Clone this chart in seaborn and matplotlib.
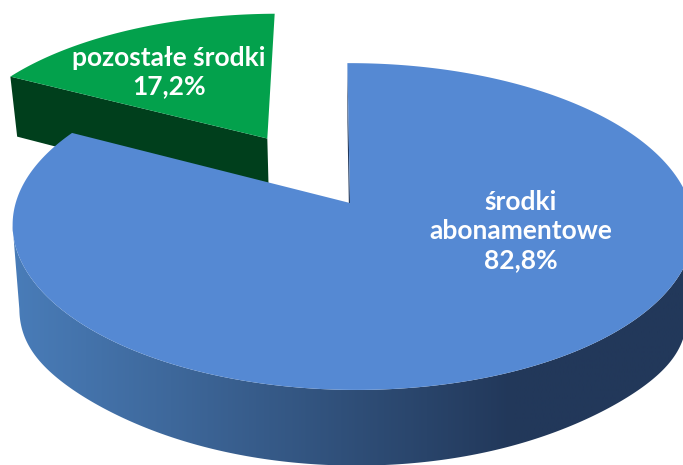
import numpy as np
import matplotlib
matplotlib.use("Agg")
import matplotlib.pyplot as plt
from matplotlib.patches import Polygon
import seaborn as sns

categories = ["środki\nabonamentowe", "pozostałe środki"]
shares = [82.8, 17.2]
share_labels = ["82,8%", "17,2%"]
explode = [0, 0.5]

top_colors = ["#5589d3", "#03a14c"]
wall_stops = ["#4a7ebb", "#3e689b", "#30507a", "#22385a", "#22385a"]
green_wall = "#003f1c"

sns.set_theme(style="white")
plt.rcParams["font.family"] = ["Lato", "DejaVu Sans"]

fig = plt.figure(figsize=(6.83, 4.65), dpi=100)
ax = fig.add_axes([0, 0, 1, 1])

# pie gives the angles and the exploded centres
wedges, _ = ax.pie(shares, explode=explode, startangle=90, counterclock=False, radius=1)
slices = [(w.theta1, w.theta2, w.center) for w in wedges]
for w in wedges:
    w.remove()


# tilted view of the pie plane
def project(u, v):
    u, v = np.asarray(u), np.asarray(v)
    s = 1 / (1 + 0.144 * v - 0.008 * u)
    return 350 + (337 * u - 3 * v) * s, 203 - 160 * v * s


def lower(x, y, bulge=0):
    return 350 + (x - 350) * 0.98, y + 60 + 0.05 * (y - 76) + bulge * ((x - 350) / 337) ** 8


def arc(t1, t2, center, n=300):
    t = np.radians(np.linspace(t1, t2, n))
    return center[0] + np.cos(t), center[1] + np.sin(t)


# green slice
t1, t2, c = slices[1]
gx, gy = project(*arc(t1, t2, c))
gcx, gcy = project(c[0], c[1])
lx, ly = lower(np.array([gx[-1], gcx]), np.array([gy[-1], gcy]))
ax.add_patch(Polygon([(gx[-1], gy[-1]), (gcx, gcy), (lx[1], ly[1]), (lx[0], ly[0])], color=green_wall, lw=0))
ax.add_patch(Polygon(np.r_[[[gcx, gcy]], np.c_[gx, gy]], color=top_colors[1], lw=0))

# blue slice outer wall, only the part facing us
t1, t2, c = slices[0]
bx, by = project(*arc(188, 352, c))
bx2, by2 = lower(bx, by, bulge=16)
wall = Polygon(np.r_[np.c_[bx, by], np.c_[bx2, by2][::-1]], transform=ax.transData, fc="none", lw=0)
ax.add_patch(wall)
cmap = sns.blend_palette(wall_stops, as_cmap=True)
im = ax.imshow(np.linspace(0, 1, 256)[None, :], cmap=cmap, extent=(0, 683, 465, 0), aspect="auto", zorder=1)
im.set_clip_path(wall)

# blue slice cut face next to the gap, then the top
cx0, cy0 = project(c[0], c[1])
px, py = project(*arc(t1, t2, c))
ex, ey = project(*arc(t2, t2, c, n=1))
lx, ly = lower(np.array([ex[0], cx0]), np.array([ey[0], cy0]))
ax.add_patch(Polygon([(ex[0], ey[0]), (cx0, cy0), (lx[1], ly[1]), (lx[0], ly[0])], color="#22385a", lw=0, zorder=2))
ax.add_patch(Polygon(np.r_[[[cx0, cy0]], np.c_[px, py]], color=top_colors[0], lw=0, zorder=3))

ax.set_xlim(0, 683)
ax.set_ylim(465, 0)
ax.set_aspect("auto")
ax.axis("off")

ax.text(521, 231, categories[0] + "\n" + share_labels[0], color="white", fontsize=19, fontweight="bold",
        ha="center", va="center", linespacing=1.24, zorder=5)
ax.text(169, 72, categories[1] + "\n" + share_labels[1], color="white", fontsize=19, fontweight="bold",
        ha="center", va="center", linespacing=1.18, zorder=5)

fig.savefig("out.png", dpi=100)
